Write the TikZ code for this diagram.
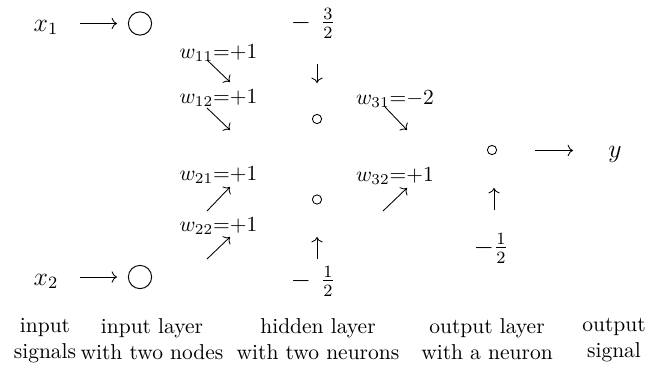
\documentclass[tikz,border=0pt]{standalone}
\usetikzlibrary{arrows.meta}
\begin{document}
\begin{tikzpicture}[x=0.465pt,y=-0.465pt,
  arr/.style={->,line width=0.4pt},
  lbl/.style={inner sep=0pt,anchor=base},
  biglbl/.style={inner sep=0pt,anchor=base,font=\large},
  valtext/.style={inner sep=0pt,font=\large},
  bignode/.style={circle,draw,line width=0.45pt,minimum size=10.8pt,inner sep=0pt},
  neuron/.style={circle,draw,line width=0.4pt,minimum size=4.3pt,inner sep=0pt},
  captext/.style={inner sep=0pt,align=center,anchor=north,font=\normalsize,text depth=0pt}]
\useasboundingbox (0,0) rectangle (648,374);
% inputs
\node[biglbl] (x1) at (46,31) {$x_1$};
\node[biglbl] (x2) at (46,285) {$x_2$};
\node[bignode] (c1) at (140,23.5) {};
\node[bignode] (c2) at (140,277) {};
\coordinate (a1s) at (80,23.5); \coordinate (a1e) at (117,23.5);
\coordinate (a2s) at (80,277); \coordinate (a2e) at (117,277);
\draw[arr] (a1s) -- (a1e);
\draw[arr] (a2s) -- (a2e);
% weights to hidden layer
\node[lbl] (w11) at (218.5,58) {$w_{11}{=}{+}1$};
\node[lbl] (w12) at (218.5,103) {$w_{12}{=}{+}1$};
\node[lbl] (w21) at (218.5,180) {$w_{21}{=}{+}1$};
\node[lbl] (w22) at (218.5,231) {$w_{22}{=}{+}1$};
\coordinate (s1s) at (207,60);  \coordinate (s1e) at (230,82);
\coordinate (s2s) at (207,108); \coordinate (s2e) at (230,130);
\coordinate (n1s) at (207,211); \coordinate (n1e) at (230,187);
\coordinate (n2s) at (207,259); \coordinate (n2e) at (230,237);
\draw[arr] (s1s) -- (s1e);
\draw[arr] (s2s) -- (s2e);
\draw[arr] (n1s) -- (n1e);
\draw[arr] (n2s) -- (n2e);
% hidden layer
\node[valtext] (b1) at (313,23) {$-\mskip7mu\frac{3}{2}$};
\node[neuron] (h1) at (317,119) {};
\node[neuron] (h2) at (317,199.5) {};
\node[valtext] (b2) at (313,281) {$-\mskip7mu\frac{1}{2}$};
\coordinate (d1s) at (317,64); \coordinate (d1e) at (317,83);
\coordinate (u1s) at (317,259); \coordinate (u1e) at (317,237);
\draw[arr] (d1s) -- (d1e);
\draw[arr] (u1s) -- (u1e);
% weights to output layer
\node[lbl] (w31) at (395,104) {$w_{31}{=}{-}2$};
\node[lbl] (w32) at (395,181) {$w_{32}{=}{+}1$};
\coordinate (s3s) at (385,107); \coordinate (s3e) at (407,130);
\coordinate (n3s) at (383,211); \coordinate (n3e) at (407,188);
\draw[arr] (s3s) -- (s3e);
\draw[arr] (n3s) -- (n3e);
% output layer
\node[neuron] (o) at (492,150) {};
\node[valtext] (b3) at (491,248) {$-\frac{1}{2}$};
\coordinate (u2s) at (494,210); \coordinate (u2e) at (494,188);
\draw[arr] (u2s) -- (u2e);
\coordinate (a3s) at (535,150.5); \coordinate (a3e) at (573,150.5);
\draw[arr] (a3s) -- (a3e);
\node[biglbl] (y) at (615,157) {$y$};
% captions
\node[captext] (k1) at (45,318) {input\\signals};
\node[captext] (k2) at (152,318) {input layer\\with two nodes};
\node[captext] (k3) at (318,318) {hidden layer\\with two neurons};
\node[captext] (k4) at (487,318) {output layer\\with a neuron};
\node[captext] (k5) at (614,318) {output\\signal};
\end{tikzpicture}
\end{document}
